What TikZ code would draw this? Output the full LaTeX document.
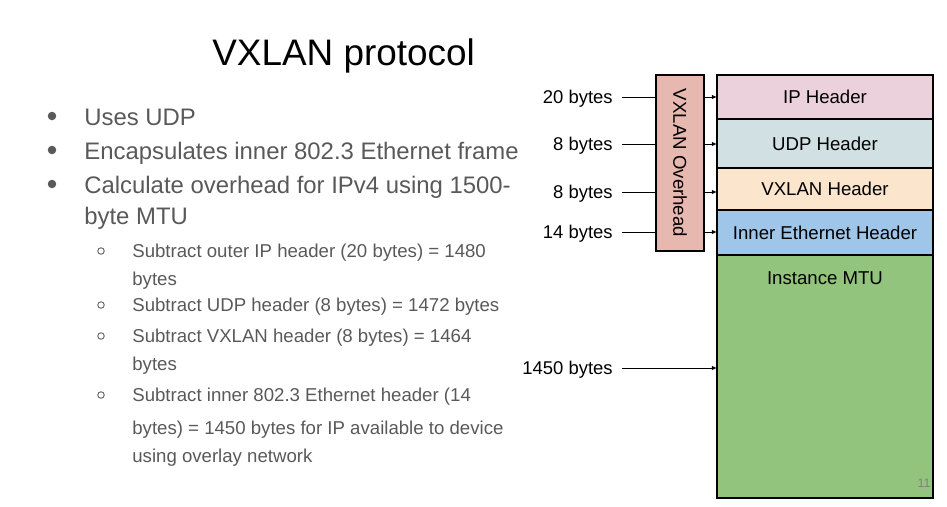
\documentclass[tikz,border=0pt]{standalone}
\usepackage{fontspec}
\setmainfont{Liberation Sans}
\usetikzlibrary{positioning,arrows.meta}

\definecolor{txtgrey}{HTML}{595959}
\definecolor{ovhd}{HTML}{E6B8AF}
\definecolor{iphdr}{HTML}{EAD1DC}
\definecolor{udphdr}{HTML}{D0E0E3}
\definecolor{vxhdr}{HTML}{FCE5CD}
\definecolor{ethhdr}{HTML}{9FC5E8}
\definecolor{mtubox}{HTML}{93C47D}

\begin{document}
\begin{tikzpicture}[
  x=0.02cm, y=-0.02cm,
  every node/.style={inner sep=0pt},
  hdr/.style={
    draw, line width=0.7pt, outer sep=0pt,
    minimum width=4.32cm,
    font=\fontsize{10.6}{12}\selectfont
  },
  bytes/.style={anchor=east, text depth=0pt, font=\fontsize{10.5}{12}\selectfont},
  arr/.style={-{Latex[length=3pt,width=2.6pt]}, line width=0.5pt, shorten <=5pt},
  mainitem/.style={anchor=base west, align=left, text=txtgrey,
    font=\fontsize{13.6}{17.6}\selectfont},
  subitem/.style={anchor=base west, align=left, text=txtgrey,
    font=\fontsize{10.6}{15.9}\selectfont},
  bigdot/.style={circle, fill=txtgrey, minimum size=0.17cm},
  smalldot/.style={circle, draw=txtgrey, line width=0.5pt, minimum size=0.13cm}
]
\useasboundingbox (0,0) rectangle (947,507);

\node[anchor=base west, font=\fontsize{21}{25}\selectfont] (title) at (212,65) {VXLAN protocol};

% bullets (base = last line)
\node[bigdot] (d1) at (52,116) {};
\node[bigdot] (d2) at (52,150) {};
\node[bigdot] (d3) at (52,184) {};
\node[mainitem] (i1) at (84,125) {Uses UDP};
\node[mainitem] (i2) at (84,159) {Encapsulates inner 802.3 Ethernet frame};
\node[mainitem] (i3) at (84,224) {Calculate overhead for IPv4 using 1500-\\byte MTU};

\node[smalldot] (s1) at (101,251) {};
\node[smalldot] (s2) at (101,305) {};
\node[smalldot] (s3) at (101,336) {};
\node[smalldot] (s4) at (101,395) {};
\node[subitem] (j1) at (132,285) {Subtract outer IP header (20 bytes) = 1480\\bytes};
\node[subitem] (j2) at (132,311) {Subtract UDP header (8 bytes) = 1472 bytes};
\node[subitem] (j3) at (132,370) {Subtract VXLAN header (8 bytes) = 1464\\bytes};
\node[subitem] (j4) at (132,462) {Subtract inner 802.3 Ethernet header (14\\[2.8pt]bytes) = 1450 bytes for IP available to device\\using overlay network};

% frame
\node[hdr, fill=iphdr, minimum height=0.88cm] (ip) at (825,97) {IP Header};
\node[hdr, fill=udphdr, minimum height=0.98cm, below=0pt of ip] (udp) {UDP Header};
\node[hdr, fill=vxhdr, minimum height=0.84cm, below=0pt of udp] (vx) {VXLAN Header};
\node[hdr, fill=ethhdr, minimum height=0.9cm, below=0pt of vx] (eth) {Inner Ethernet Header};
\node[hdr, fill=mtubox, minimum height=4.86cm, below=0pt of eth] (mtu) {};
\node[below=0.33cm of mtu.north, font=\fontsize{10.6}{12}\selectfont] (mtulbl) {Instance MTU};

\node[bytes] (b20) at (613,97) {20 bytes};
\node[bytes] (b8u) at (613,144) {8 bytes};
\node[bytes] (b8v) at (613,192) {8 bytes};
\node[bytes] (b14) at (613,232) {14 bytes};
\node[bytes] (b1450) at (613,368) {1450 bytes};

\draw[arr] (b20) -- (b20 -| ip.west);
\draw[arr] (b8u) -- (b8u -| udp.west);
\draw[arr] (b8v) -- (b8v -| vx.west);
\draw[arr] (b14) -- (b14 -| eth.west);
\draw[arr] (b1450) -- (b1450 -| mtu.west);

\node[draw, line width=0.7pt, fill=ovhd, rotate=-90,
  minimum width=3.52cm, minimum height=0.96cm,
  font=\fontsize{10.6}{12}\selectfont] (ovh) at (680,163) {VXLAN Overhead};

\node[text=gray, font=\fontsize{7}{8}\selectfont] (pgno) at (924,483) {11};

\end{tikzpicture}
\end{document}
